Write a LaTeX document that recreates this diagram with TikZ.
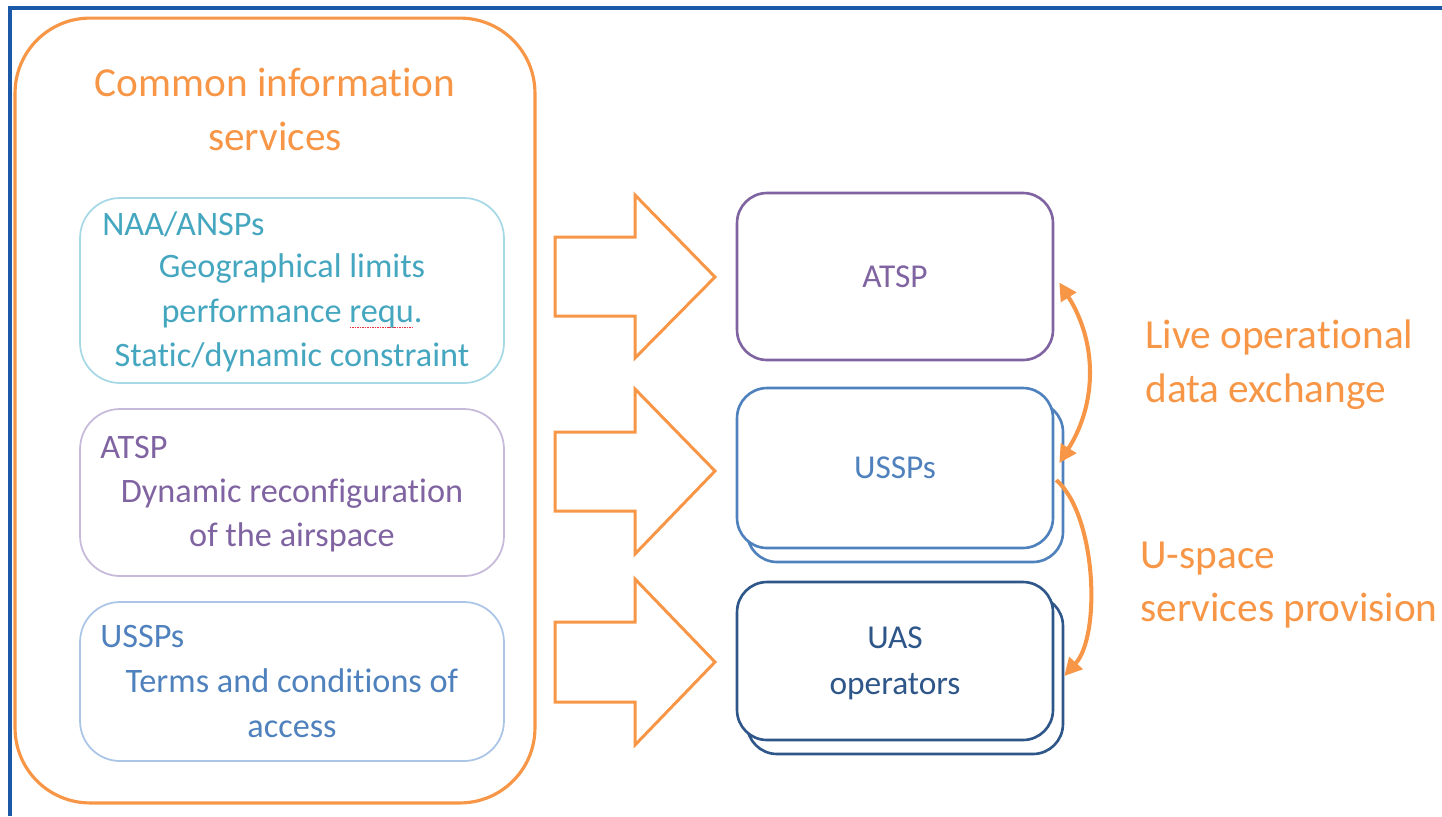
\documentclass[tikz,border=0pt]{standalone}
\usepackage{fontspec}
\setmainfont{Carlito}[Ligatures=NoCommon]
\usetikzlibrary{arrows.meta,calc}
\definecolor{orng}{HTML}{F79646}
\definecolor{aquat}{HTML}{45A6BF}
\definecolor{aquab}{HTML}{A6D9E5}
\definecolor{purp}{HTML}{8064A2}
\definecolor{purpl}{HTML}{C6B9D9}
\definecolor{blu}{HTML}{4F81BD}
\definecolor{blul}{HTML}{AAC5E6}
\definecolor{navy}{HTML}{2E5689}
\definecolor{framec}{HTML}{1B58A8}
\definecolor{spellred}{HTML}{E8333F}
\newcommand\spellmark[1]{\setbox0=\hbox{#1}\rlap{\color{spellred}\hbox to \wd0{\xleaders\hbox to 1.4pt{\hss\rule[-3.5pt]{0.9pt}{0.7pt}\hss}\hfill}}\box0}
\tikzset{
  outerbox/.style={draw=orng, line width=1.8pt, rounded corners=1.5cm, minimum width=10.4cm, minimum height=15.7cm, inner sep=0pt},
  subbox/.style={line width=1.0pt, rounded corners=0.8cm, minimum width=8.48cm, inner sep=0pt},
  rbox/.style={line width=1.5pt, rounded corners=0.6cm, minimum width=6.32cm, fill=white, inner sep=0pt},
  titletext/.style={font=\fontsize{23.5pt}{31.2pt}\selectfont, text=orng, align=center, inner sep=0pt},
  subtext/.style={font=\fontsize{19.5pt}{25.5pt}\selectfont, align=center, inner sep=0pt},
  subhead/.style={font=\fontsize{19.5pt}{25.5pt}\selectfont, anchor=west, inner sep=0pt},
  rtext/.style={font=\fontsize{19pt}{26pt}\selectfont, align=center, inner sep=0pt},
  sidetext/.style={font=\fontsize{23.5pt}{30.6pt}\selectfont, text=orng, align=left, anchor=west, inner sep=0pt},
  blockarrow/.style={draw=orng, line width=1.7pt, line join=miter},
  curvearrow/.style={draw=orng, line width=2.3pt}
}
\begin{document}
\begin{tikzpicture}[x=0.02cm,y=-0.02cm]
\useasboundingbox (0,0) rectangle (1442,816);
% frame
\draw[framec, line width=1.8pt] (10,816) -- (10,8) -- (1442,8);

% outer box
\node[outerbox] (outer) at (275,410.5) {};
\node[titletext] (title) at (275,109.5) {Common information\\services};

% left sub boxes
\node[subbox, draw=aquab, minimum height=3.7cm] (naa) at (292,290.5) {};
\node[subhead, text=aquat] (naah) at (102,224) {NAA/ANSPs};
\node[subtext, text=aquat] (naat) at (292,313) {Geographical limits\\performance \spellmark{requ}.\\Static/dynamic constraint};

\node[subbox, draw=purpl, minimum height=3.34cm] (atspl) at (292,492.5) {};
\node[subhead, text=purp] (atsplh) at (100,447) {ATSP};
\node[subtext, text=purp] (atsplt) at (292,515.5) {Dynamic reconfiguration\\of the airspace};

\node[subbox, draw=blul, minimum height=3.18cm] (usspl) at (292,681.5) {};
\node[subhead, text=blu] (ussplh) at (100,636) {USSPs};
\node[subtext, text=blu] (ussplt) at (292,703.5) {Terms and conditions of\\access};

% block arrows
\draw[blockarrow] (555,237) -- (635,237) -- (635,195) -- (715,277) -- (635,358) -- (635,316) -- (555,316) -- cycle;
\draw[blockarrow] (555,432) -- (635,432) -- (635,389) -- (715,471) -- (635,554) -- (635,511) -- (555,511) -- cycle;
\draw[blockarrow] (555,622) -- (635,622) -- (635,579) -- (715,662) -- (635,745) -- (635,702) -- (555,702) -- cycle;

% right boxes
\node[rbox, draw=purp, minimum height=3.34cm] (atspr) at (895,276.5) {};
\node[rtext, text=purp] (atsprt) at (895,277) {ATSP};

\node[rbox, draw=blu, minimum height=3.2cm] (usspback) at (905,482) {};
\node[rbox, draw=blu, minimum height=3.2cm] (ussp) at (895,468) {};
\node[rtext, text=blu] (ussprt) at (895,468) {USSPs};

\node[rbox, draw=navy, minimum height=3.16cm] (uasback) at (905,675) {};
\node[rbox, draw=navy, minimum height=3.16cm] (uas) at (895,661) {};
\node[rtext, text=navy] (uast) at (895,663) {UAS\\operators};

% curved arrows
\draw[curvearrow, {Triangle[length=10pt,width=10pt]}-{Triangle[length=10pt,width=10pt]}]
  ($(ussp.east)+(5,-5)$) .. controls +(38,-60) and +(38,60) .. ($(atspr.east)+(5,6)$);
\draw[curvearrow, -{Triangle[length=10pt,width=10pt]}]
  ($(ussp.east)+(2,12)$) .. controls +(40,35) and +(37,-41) .. ($(uasback.east)+(0,1)$);

% side labels
\node[sidetext] (live) at (1145,365) {Live operational\\data exchange};
\node[sidetext] (uspace) at (1140,585) {U-space\\services provision};
\end{tikzpicture}
\end{document}
